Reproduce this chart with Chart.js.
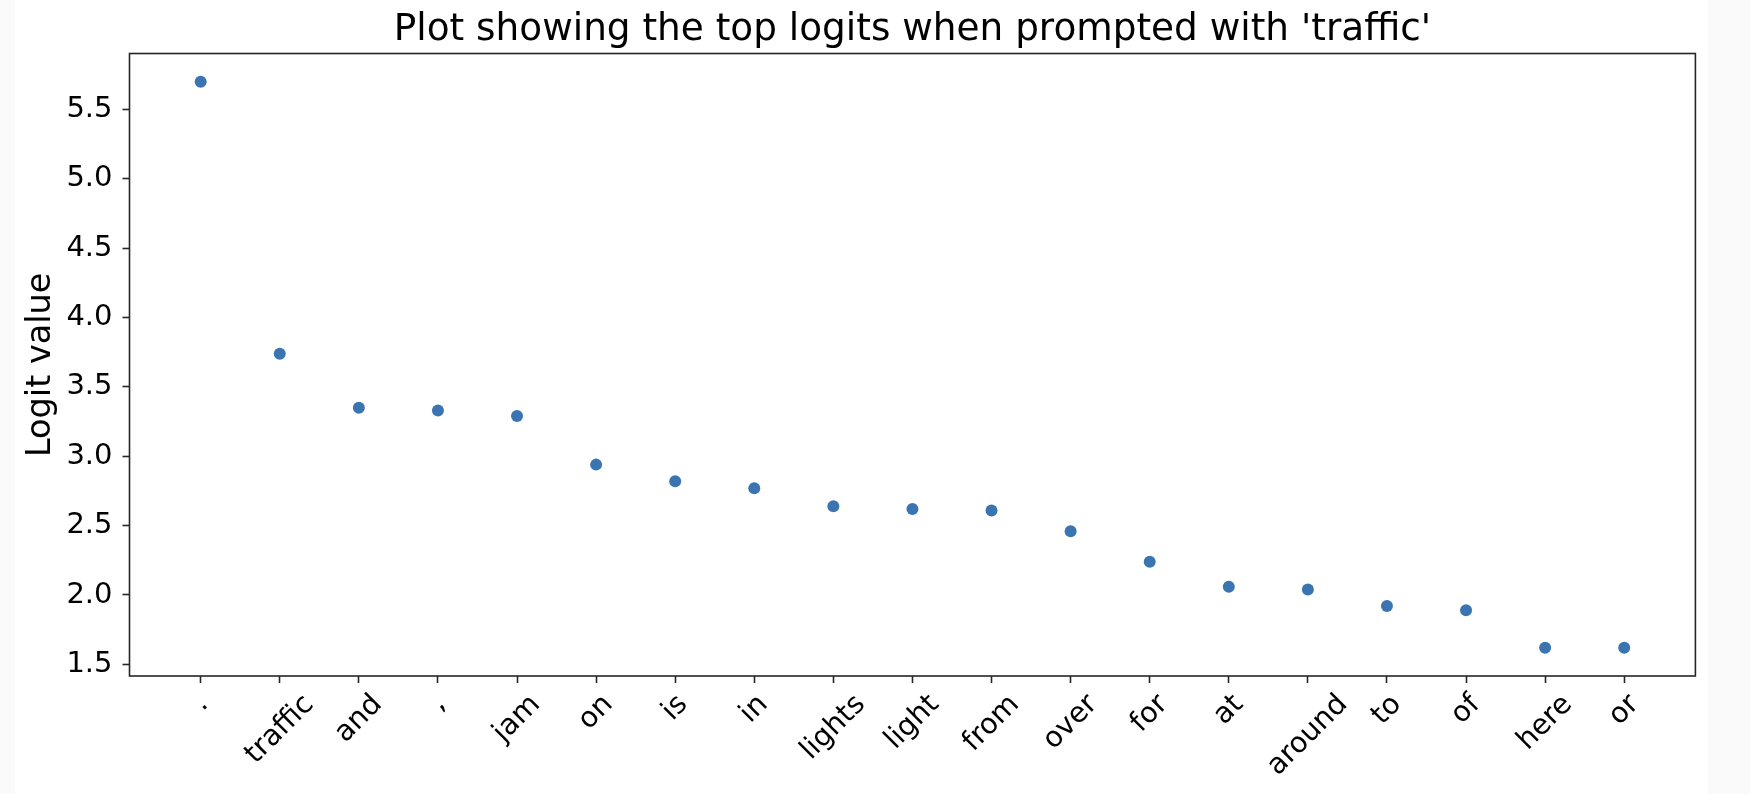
<!DOCTYPE html>
<html>
<head>
<meta charset="utf-8">
<title>Top logits</title>
<script src="https://cdn.jsdelivr.net/npm/chart.js@4/dist/chart.umd.min.js"></script>
<style>
	html, body { margin: 0; padding: 0; background: #fafafa; }
	#wrap { position: absolute; left: 15px; top: 0; width: 1693px; height: 794px; background: #fff; }
</style>
</head>
<body>
<div id="wrap"><canvas id="chart"></canvas></div>
<script>
var tokens = ['.', 'traffic', 'and', ',', 'jam', 'on', 'is', 'in', 'lights', 'light', 'from', 'over', 'for', 'at', 'around', 'to', 'of', 'here', 'or'];
var logits = [5.70, 3.74, 3.35, 3.33, 3.29, 2.94, 2.82, 2.77, 2.64, 2.62, 2.61, 2.46, 2.24, 2.06, 2.04, 1.92, 1.89, 1.62, 1.62];
var yTicks = [1.5, 2.0, 2.5, 3.0, 3.5, 4.0, 4.5, 5.0, 5.5];
var yTickLabels = ['1.5', '2.0', '2.5', '3.0', '3.5', '4.0', '4.5', '5.0', '5.5'];
var titleText = "Plot showing the top logits when prompted with 'traffic'";
var yTitle = 'Logit value';

var FONT = '"DejaVu Sans", sans-serif';
var INK = '#262626';
var TICK_SIZE = 28.5;

//matplotlib style 5% margins around the data
var yMin = Math.min.apply(null, logits), yMax = Math.max.apply(null, logits);
var yPad = (yMax - yMin) * 0.05;
var xPad = (tokens.length - 1) * 0.05;

var points = [];
for (var i = 0; i < tokens.length; i++) {
	points.push({x: i, y: logits[i]});
}

//frame on all four sides
var framePlugin = {
	id: 'frame',
	afterDatasetsDraw: function(chart) {
		var a = chart.chartArea, ctx = chart.ctx;
		ctx.save();
		ctx.strokeStyle = INK;
		ctx.lineWidth = 1.6;
		ctx.strokeRect(a.left, a.top, a.right - a.left, a.bottom - a.top);
		ctx.restore();
	}
};

//rotated x labels, centred under their tick like matplotlib does
var xLabelPlugin = {
	id: 'xlabels',
	afterDraw: function(chart) {
		var ctx = chart.ctx, xs = chart.scales.x;
		var top = chart.chartArea.bottom + 7 + 7;
		ctx.save();
		ctx.font = TICK_SIZE + 'px ' + FONT;
		ctx.fillStyle = '#000';
		ctx.textAlign = 'center';
		ctx.textBaseline = 'middle';
		for (var k = 0; k < tokens.length; k++) {
			var w = ctx.measureText(tokens[k]).width;
			var cy = top + (w + TICK_SIZE) * Math.SQRT1_2 / 2;
			ctx.save();
			ctx.translate(xs.getPixelForValue(k), cy);
			ctx.rotate(-Math.PI / 4);
			ctx.fillText(tokens[k], 0, 0);
			ctx.restore();
		}
		ctx.restore();
	}
};

var chart = new Chart(document.getElementById('chart'), {
	type: 'scatter',
	data: {
		datasets: [{
			data: points,
			backgroundColor: 'rgb(58,117,178)',
			borderColor: 'rgb(58,117,178)',
			borderWidth: 0,
			pointRadius: 6,
			pointHoverRadius: 6
		}]
	},
	options: {
		responsive: true,
		maintainAspectRatio: false,
		devicePixelRatio: 1,
		animation: false,
		events: [],
		layout: { padding: { left: 0, right: 12.6, top: 0, bottom: 0 } },
		plugins: {
			legend: { display: false },
			tooltip: { enabled: false },
			title: {
				display: true,
				fullSize: false,
				text: titleText,
				color: '#000',
				font: { family: FONT, size: 37.4, weight: 'normal', lineHeight: 1.15 },
				padding: { top: 9, bottom: 1.5 }
			}
		},
		scales: {
			x: {
				type: 'linear',
				min: -xPad,
				max: tokens.length - 1 + xPad,
				afterBuildTicks: function(scale) {
					scale.ticks = tokens.map(function(t, k) { return {value: k}; });
				},
				afterFit: function(scale) { scale.height = 118; },
				border: { display: false },
				grid: { drawOnChartArea: false, drawTicks: true, tickLength: 7, tickColor: INK, tickWidth: 1.6 },
				ticks: { display: false }
			},
			y: {
				min: yMin - yPad,
				max: yMax + yPad,
				afterBuildTicks: function(scale) {
					scale.ticks = yTicks.map(function(v) { return {value: v}; });
				},
				afterFit: function(scale) { scale.width = 114.5; },
				border: { display: false },
				grid: { drawOnChartArea: false, drawTicks: true, tickLength: 7, tickColor: INK, tickWidth: 1.6 },
				ticks: {
					color: '#000',
					padding: 10,
					font: { family: FONT, size: 29 },
					callback: function(v) { return yTickLabels[yTicks.indexOf(v)]; }
				},
				title: {
					display: true,
					text: yTitle,
					color: '#000',
					font: { family: FONT, size: 33.5 },
					padding: { top: 6, bottom: 0 }
				}
			}
		}
	},
	plugins: [framePlugin, xLabelPlugin]
});
</script>
</body>
</html>
